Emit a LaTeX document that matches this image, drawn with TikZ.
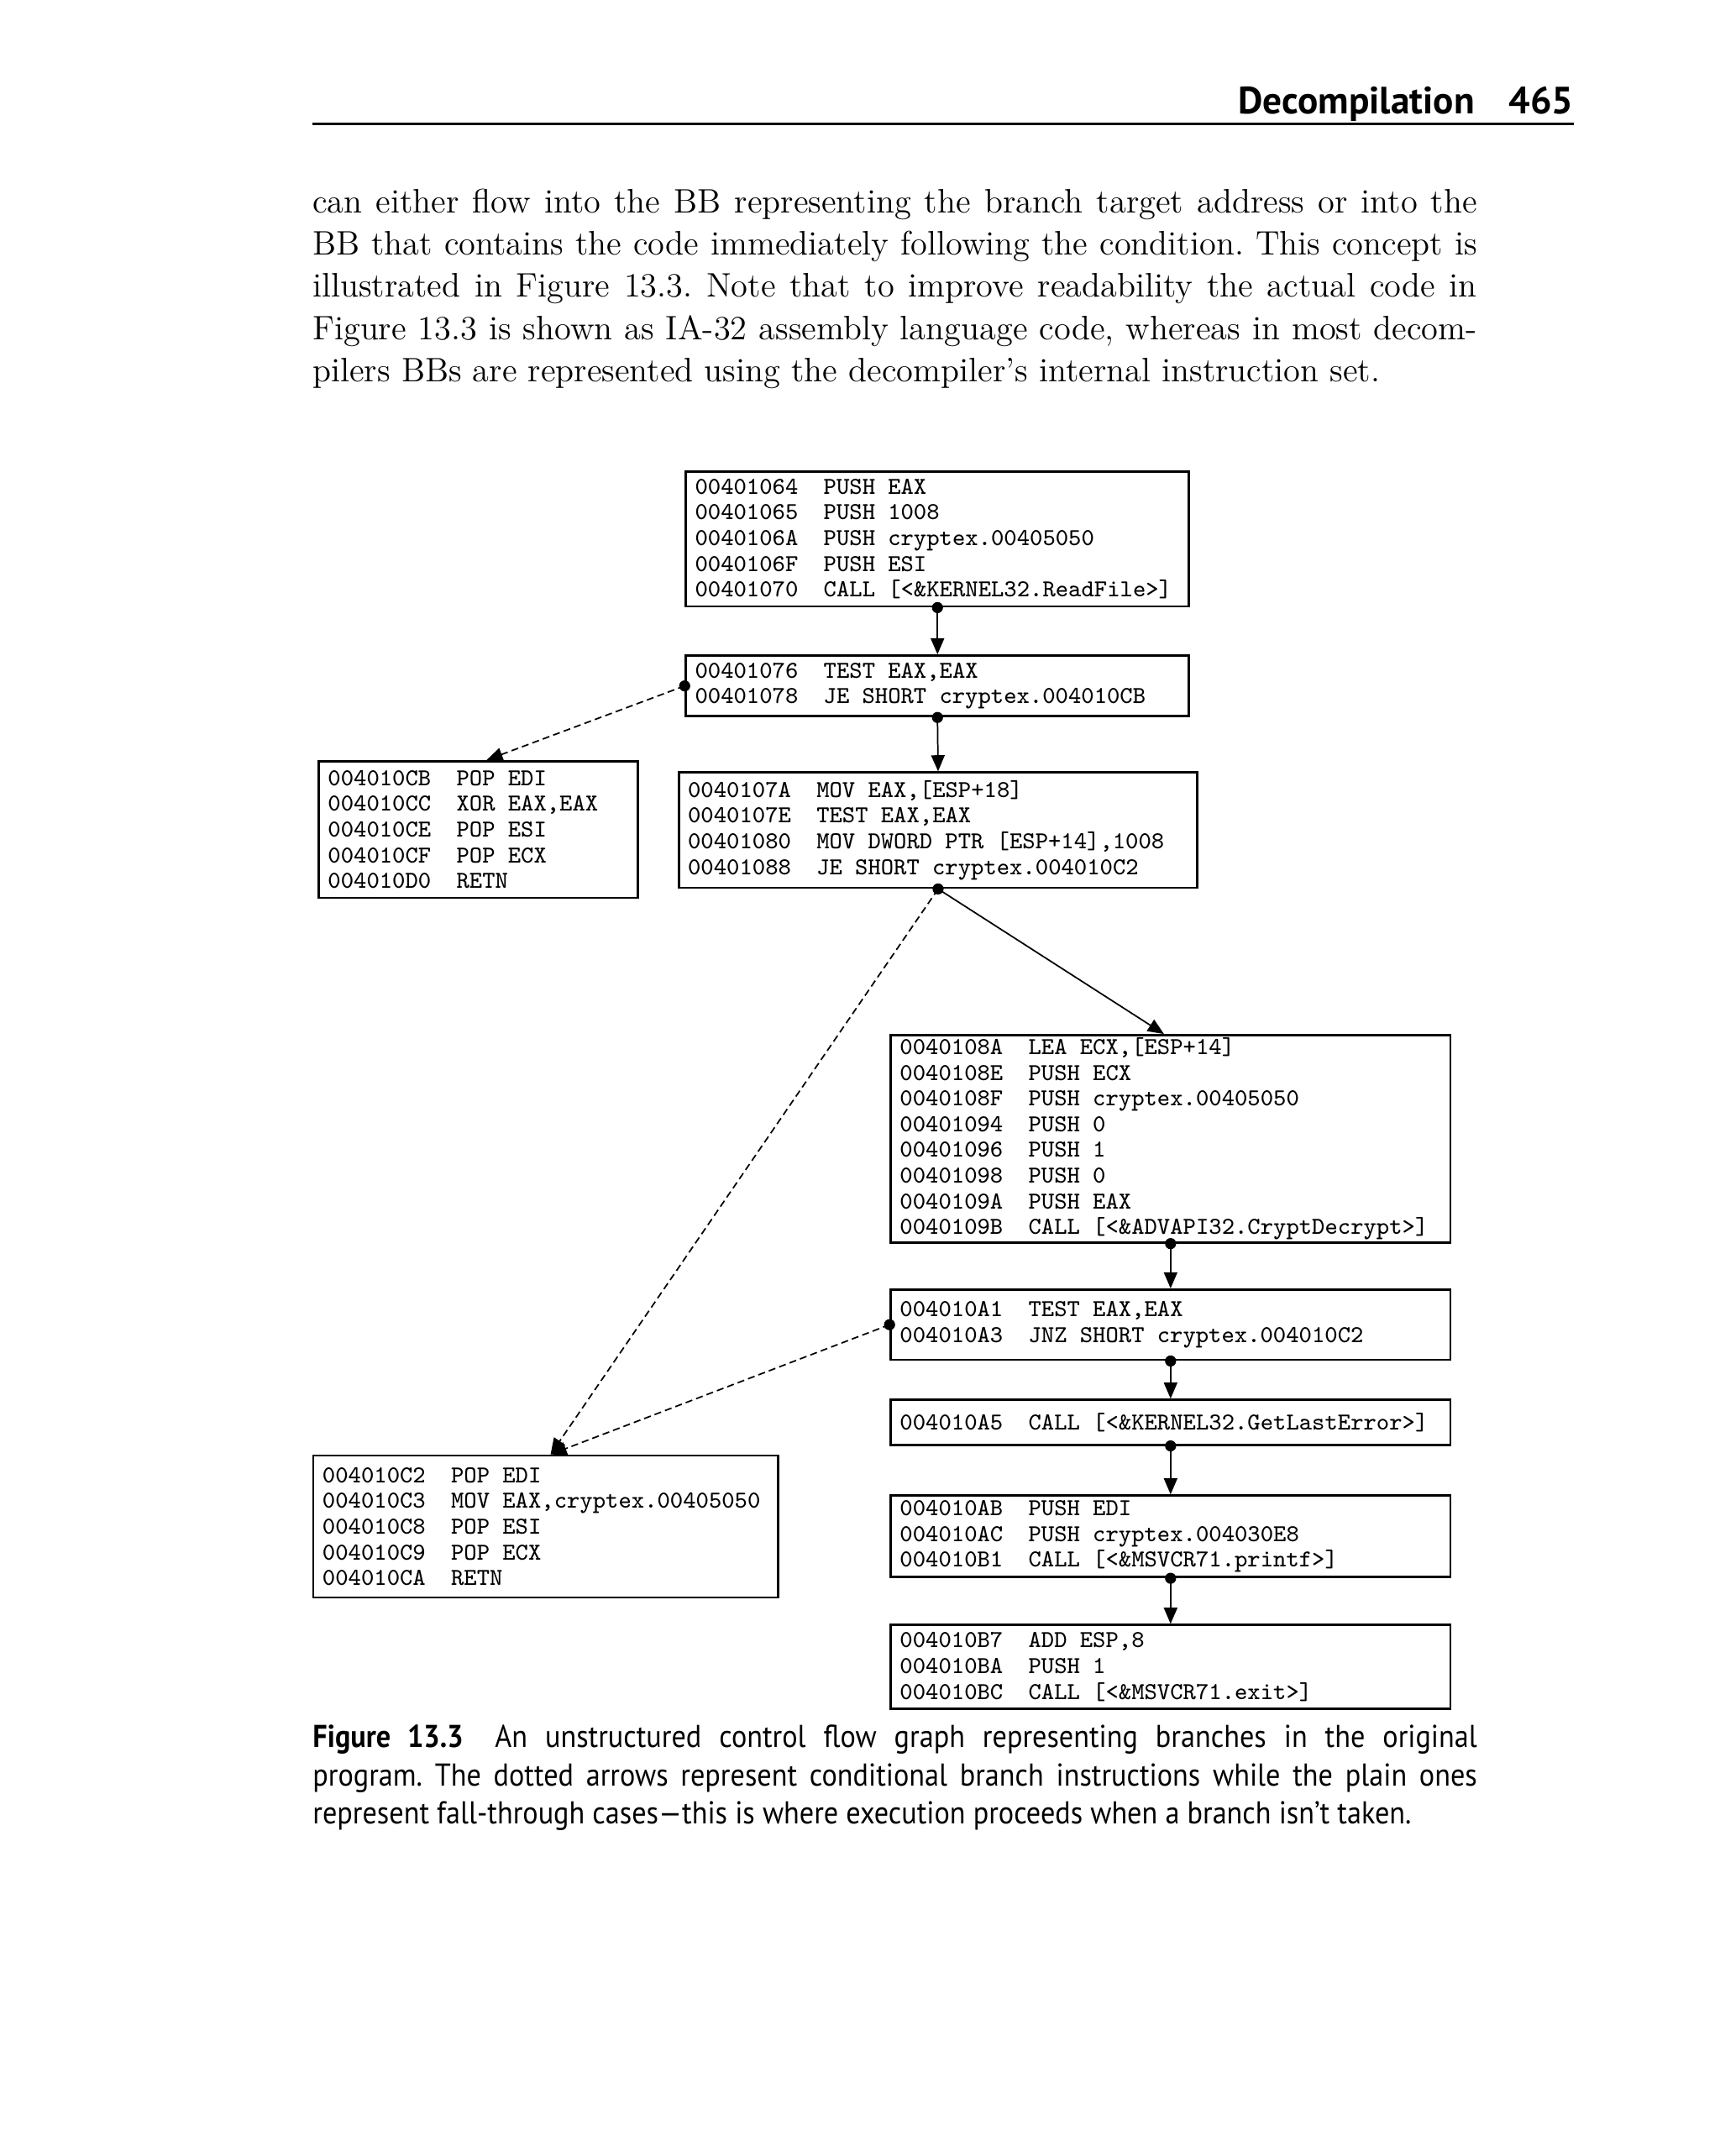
\documentclass[tikz,border=0pt]{standalone}
\usepackage{fontspec}
\usepackage{tikz}
\usetikzlibrary{arrows.meta, positioning, calc}
\newfontfamily\capfont{PT Sans}[FakeStretch=0.91]
\newfontfamily\headfont{PT Sans}
% monospaced listing font
\newcommand{\asmfont}{\ttfamily\fontsize{8.3}{8.79}\selectfont}
% one listing line: address column, then the instruction (one space = one cell)
\newcommand{\asm}[2]{\makebox[1.545cm][l]{#1}{\spaceskip=0.525em\relax#2}}

\begin{document}
\frenchspacing
\begin{tikzpicture}[
  bb/.style={draw, line width=0.8pt, anchor=north west, inner xsep=0.11cm, inner ysep=0pt,
    align=left, font=\asmfont},
  dot/.style={circle, fill, inner sep=0pt, minimum size=3.8pt},
  fall/.style={-{Triangle[length=5.5pt, width=4.6pt]}, line width=0.5pt},
  taken/.style={fall, dash pattern=on 2.4pt off 1.4pt}
]
  \fill[white] (0,0) rectangle (20.662,-25.898);
  \useasboundingbox (0,0) rectangle (20.662,-25.898);

  % Running head
  \node[anchor=base east, inner sep=0pt, font=\headfont\bfseries\fontsize{13}{15}\selectfont] (headtitle) at (17.72,-1.37) {Decompilation};
  \node[anchor=base east, inner sep=0pt, font=\headfont\bfseries\fontsize{13}{15}\selectfont] (headpage) at (18.91,-1.37) {465};
  \draw[line width=0.95pt] (3.75,-1.49) -- (18.91,-1.49);

  % Body text
  \node[anchor=north west, inner sep=0pt, text width=398pt, align=justify, font=\fontsize{11.6}{14.45}\selectfont] (body) at (3.75,-2.26) {
    can either flow into the BB representing the branch target address or into the\linebreak
    BB that contains the code immediately following the condition. This concept is\linebreak
    illustrated in Figure 13.3. Note that to improve readability the actual code in\linebreak
    Figure 13.3 is shown as IA-32 assembly language code, whereas in most decom-\linebreak
    pilers BBs are represented using the decompiler’s internal instruction set.
  };

  % Basic blocks
  \node[bb, text width=5.825cm, minimum height=1.62cm] (readfile) at (8.225,-5.65) {
    \asm{00401064}{PUSH EAX}\\
    \asm{00401065}{PUSH 1008}\\
    \asm{0040106A}{PUSH cryptex.00405050}\\
    \asm{0040106F}{PUSH ESI}\\
    \asm{00401070}{CALL [<\&KERNEL32.ReadFile>]}
  };
  \node[bb, text width=5.825cm, minimum height=0.73cm] (test1) at (8.225,-7.86) {
    \asm{00401076}{TEST EAX,EAX}\\
    \asm{00401078}{JE SHORT cryptex.004010CB}
  };
  \node[bb, text width=3.612cm, minimum height=1.64cm] (exitzero) at (3.815,-9.13) {
    \asm{004010CB}{POP EDI}\\
    \asm{004010CC}{XOR EAX,EAX}\\
    \asm{004010CE}{POP ESI}\\
    \asm{004010CF}{POP ECX}\\
    \asm{004010D0}{RETN}
  };
  \node[bb, text width=6.01cm, minimum height=1.385cm] (test2) at (8.14,-9.265) {
    \asm{0040107A}{MOV EAX,[ESP+18]}\\
    \asm{0040107E}{TEST EAX,EAX}\\
    \asm{00401080}{MOV DWORD PTR [ESP+14],1008}\\
    \asm{00401088}{JE SHORT cryptex.004010C2}
  };
  \node[bb, text width=6.504cm, minimum height=2.49cm] (decrypt) at (10.686,-12.42) {
    \asm{0040108A}{LEA ECX,[ESP+14]}\\
    \asm{0040108E}{PUSH ECX}\\
    \asm{0040108F}{PUSH cryptex.00405050}\\
    \asm{00401094}{PUSH 0}\\
    \asm{00401096}{PUSH 1}\\
    \asm{00401098}{PUSH 0}\\
    \asm{0040109A}{PUSH EAX}\\
    \asm{0040109B}{CALL [<\&ADVAPI32.CryptDecrypt>]}
  };
  \node[bb, text width=6.504cm, minimum height=0.844cm] (test3) at (10.686,-15.476) {
    \asm{004010A1}{TEST EAX,EAX}\\
    \asm{004010A3}{JNZ SHORT cryptex.004010C2}
  };
  \node[bb, text width=6.504cm, minimum height=0.54cm] (lasterr) at (10.686,-16.80) {
    \asm{004010A5}{CALL [<\&KERNEL32.GetLastError>]}
  };
  \node[bb, text width=5.36cm, minimum height=1.705cm] (exitok) at (3.75,-17.47) {
    \asm{004010C2}{POP EDI}\\
    \asm{004010C3}{MOV EAX,cryptex.00405050}\\
    \asm{004010C8}{POP ESI}\\
    \asm{004010C9}{POP ECX}\\
    \asm{004010CA}{RETN}
  };
  \node[bb, text width=6.504cm, minimum height=0.98cm] (printit) at (10.686,-17.95) {
    \asm{004010AB}{PUSH EDI}\\
    \asm{004010AC}{PUSH cryptex.004030E8}\\
    \asm{004010B1}{CALL [<\&MSVCR71.printf>]}
  };
  \node[bb, text width=6.504cm, minimum height=1.005cm] (quit) at (10.686,-19.505) {
    \asm{004010B7}{ADD ESP,8}\\
    \asm{004010BA}{PUSH 1}\\
    \asm{004010BC}{CALL [<\&MSVCR71.exit>]}
  };

  % Fall-through and branch edges
  \draw[fall] (readfile.south) node[dot] {} -- (test1.north);
  \draw[fall] (test1.south) node[dot] {} -- (test2.north);
  \draw[taken] (test1.west) node[dot] {} -- ([xshift=0.1cm]exitzero.north);
  \draw[fall] (test2.south) node[dot] {} -- ([xshift=-0.08cm]decrypt.north);
  \draw[taken] (test2.south) -- ([xshift=0.06cm]exitok.north);
  \draw[fall] (decrypt.south) node[dot] {} -- (test3.north);
  \draw[taken] (test3.west) node[dot] {} -- ([xshift=0.06cm]exitok.north);
  \draw[fall] (test3.south) node[dot] {} -- (lasterr.north);
  \draw[fall] (lasterr.south) node[dot] {} -- (printit.north);
  \draw[fall] (printit.south) node[dot] {} -- (quit.north);

  % Caption
  \node[anchor=north west, inner sep=0pt, text width=398pt, align=justify, font=\capfont\fontsize{10.8}{13.15}\selectfont] (caption) at (3.75,-20.71) {
    \textbf{Figure 13.3}\quad An unstructured control flow graph representing branches in the original\linebreak
    program. The dotted arrows represent conditional branch instructions while the plain ones\linebreak
    represent fall-through cases—this is where execution proceeds when a branch isn’t taken.
  };
\end{tikzpicture}
\end{document}
